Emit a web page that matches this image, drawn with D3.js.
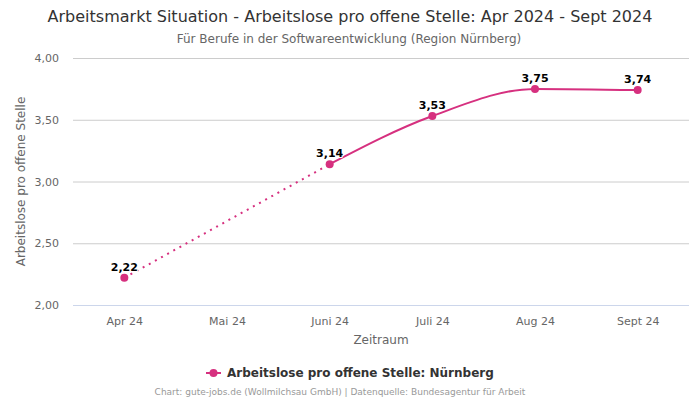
<!DOCTYPE html>
<html><head><meta charset="utf-8">
<script src="https://cdn.jsdelivr.net/npm/d3@7"></script>
<style>body{margin:0;background:#fff;font-family:"DejaVu Sans",sans-serif}</style>
</head><body><svg id="c" width="700" height="400"></svg>
<script>
const categories = ["Apr 24","Mai 24","Juni 24","Juli 24","Aug 24","Sept 24"];
const values = [2.22, null, 3.14, 3.53, 3.75, 3.74];
const yTicks = [2.0, 2.5, 3.0, 3.5, 4.0];
const seriesName = "Arbeitslose pro offene Stelle: Nürnberg";
const color = "#d6307f";

const svg = d3.select("#c");
const m = {l:73, r:689, t:58, b:305};
const x = d3.scalePoint().domain(categories).range([m.l, m.r]).padding(0.5);
const y = d3.scaleLinear().domain([2,4]).range([m.b, m.t]);
const fmt = v => d3.format(".2f")(v).replace(".", ",");

svg.append("text").attr("x",350).attr("y",22).attr("text-anchor","middle")
  .attr("font-size",16).attr("fill","#333").text("Arbeitsmarkt Situation - Arbeitslose pro offene Stelle: Apr 2024 - Sept 2024");
svg.append("text").attr("x",349).attr("y",43).attr("text-anchor","middle")
  .attr("font-size",12).attr("fill","#666").text("Für Berufe in der Softwareentwicklung (Region Nürnberg)");

// grid
const ya = svg.append("g").attr("transform",`translate(${m.l},0)`)
  .call(d3.axisLeft(y).tickValues(yTicks).tickSize(-(m.r-m.l)).tickFormat(fmt));
ya.select(".domain").remove();
ya.selectAll(".tick line").attr("stroke", d => d===2 ? "#ccd6eb" : "#cccccc");
ya.selectAll(".tick text").attr("x",-14).attr("font-size",11).attr("fill","#666").attr("font-family","DejaVu Sans");

const xa = svg.append("g").attr("transform",`translate(0,${m.b})`)
  .call(d3.axisBottom(x).tickSize(0));
xa.select(".domain").remove();
xa.selectAll(".tick text").attr("dy",0).attr("y",20).attr("font-size",11).attr("fill","#666").attr("font-family","DejaVu Sans");

svg.append("text").attr("transform",`translate(25,${(m.t+m.b)/2}) rotate(-90)`)
  .attr("text-anchor","middle").attr("font-size",12).attr("fill","#666").text("Arbeitslose pro offene Stelle");
svg.append("text").attr("x",(m.l+m.r)/2).attr("y",344).attr("text-anchor","middle")
  .attr("font-size",12).attr("fill","#666").text("Zeitraum");

const pts = categories.map((c,i)=>({c, v: values[i]})).filter(d=>d.v!=null);
// dotted gap connector
for (let i=0;i<categories.length;i++){
  if (values[i]==null){
    let a=i-1,b=i+1; while(a>=0&&values[a]==null)a--; while(b<values.length&&values[b]==null)b++;
    if(a>=0&&b<values.length){
      svg.append("line").attr("x1",x(categories[a])).attr("y1",y(values[a]))
        .attr("x2",x(categories[b])).attr("y2",y(values[b]))
        .attr("stroke",color).attr("stroke-width",2).attr("stroke-dasharray","2,5");
    }
  }
}
const line = d3.line().defined(d=>d.v!=null).x(d=>x(d.c)).y(d=>y(d.v)).curve(d3.curveMonotoneX);
svg.append("path").datum(categories.map((c,i)=>({c,v:values[i]})))
  .attr("d",line).attr("fill","none").attr("stroke",color).attr("stroke-width",2);
svg.selectAll("circle.p").data(pts).enter().append("circle")
  .attr("cx",d=>x(d.c)).attr("cy",d=>y(d.v)).attr("r",4).attr("fill",color);
svg.selectAll("text.lbl").data(pts).enter().append("text")
  .attr("x",d=>x(d.c)).attr("y",d=>y(d.v)-7).attr("text-anchor","middle")
  .attr("font-size",11).attr("font-weight","bold").attr("fill","#000")
  .attr("stroke","#fff").attr("stroke-width",2).attr("paint-order","stroke").text(d=>fmt(d.v));

// legend
const lg = svg.append("g");
lg.append("text").attr("x",227).attr("y",377).attr("font-size",12).attr("font-weight","bold").attr("fill","#333").text(seriesName);
lg.append("line").attr("x1",206).attr("x2",221).attr("y1",373).attr("y2",373).attr("stroke",color).attr("stroke-width",2);
lg.append("circle").attr("cx",213.5).attr("cy",373).attr("r",4).attr("fill",color);

svg.append("text").attr("x",340).attr("y",395).attr("text-anchor","middle")
  .attr("font-size",9).attr("fill","#999").text("Chart: gute-jobs.de (Wollmilchsau GmbH) | Datenquelle: Bundesagentur für Arbeit");
</script></body></html>
